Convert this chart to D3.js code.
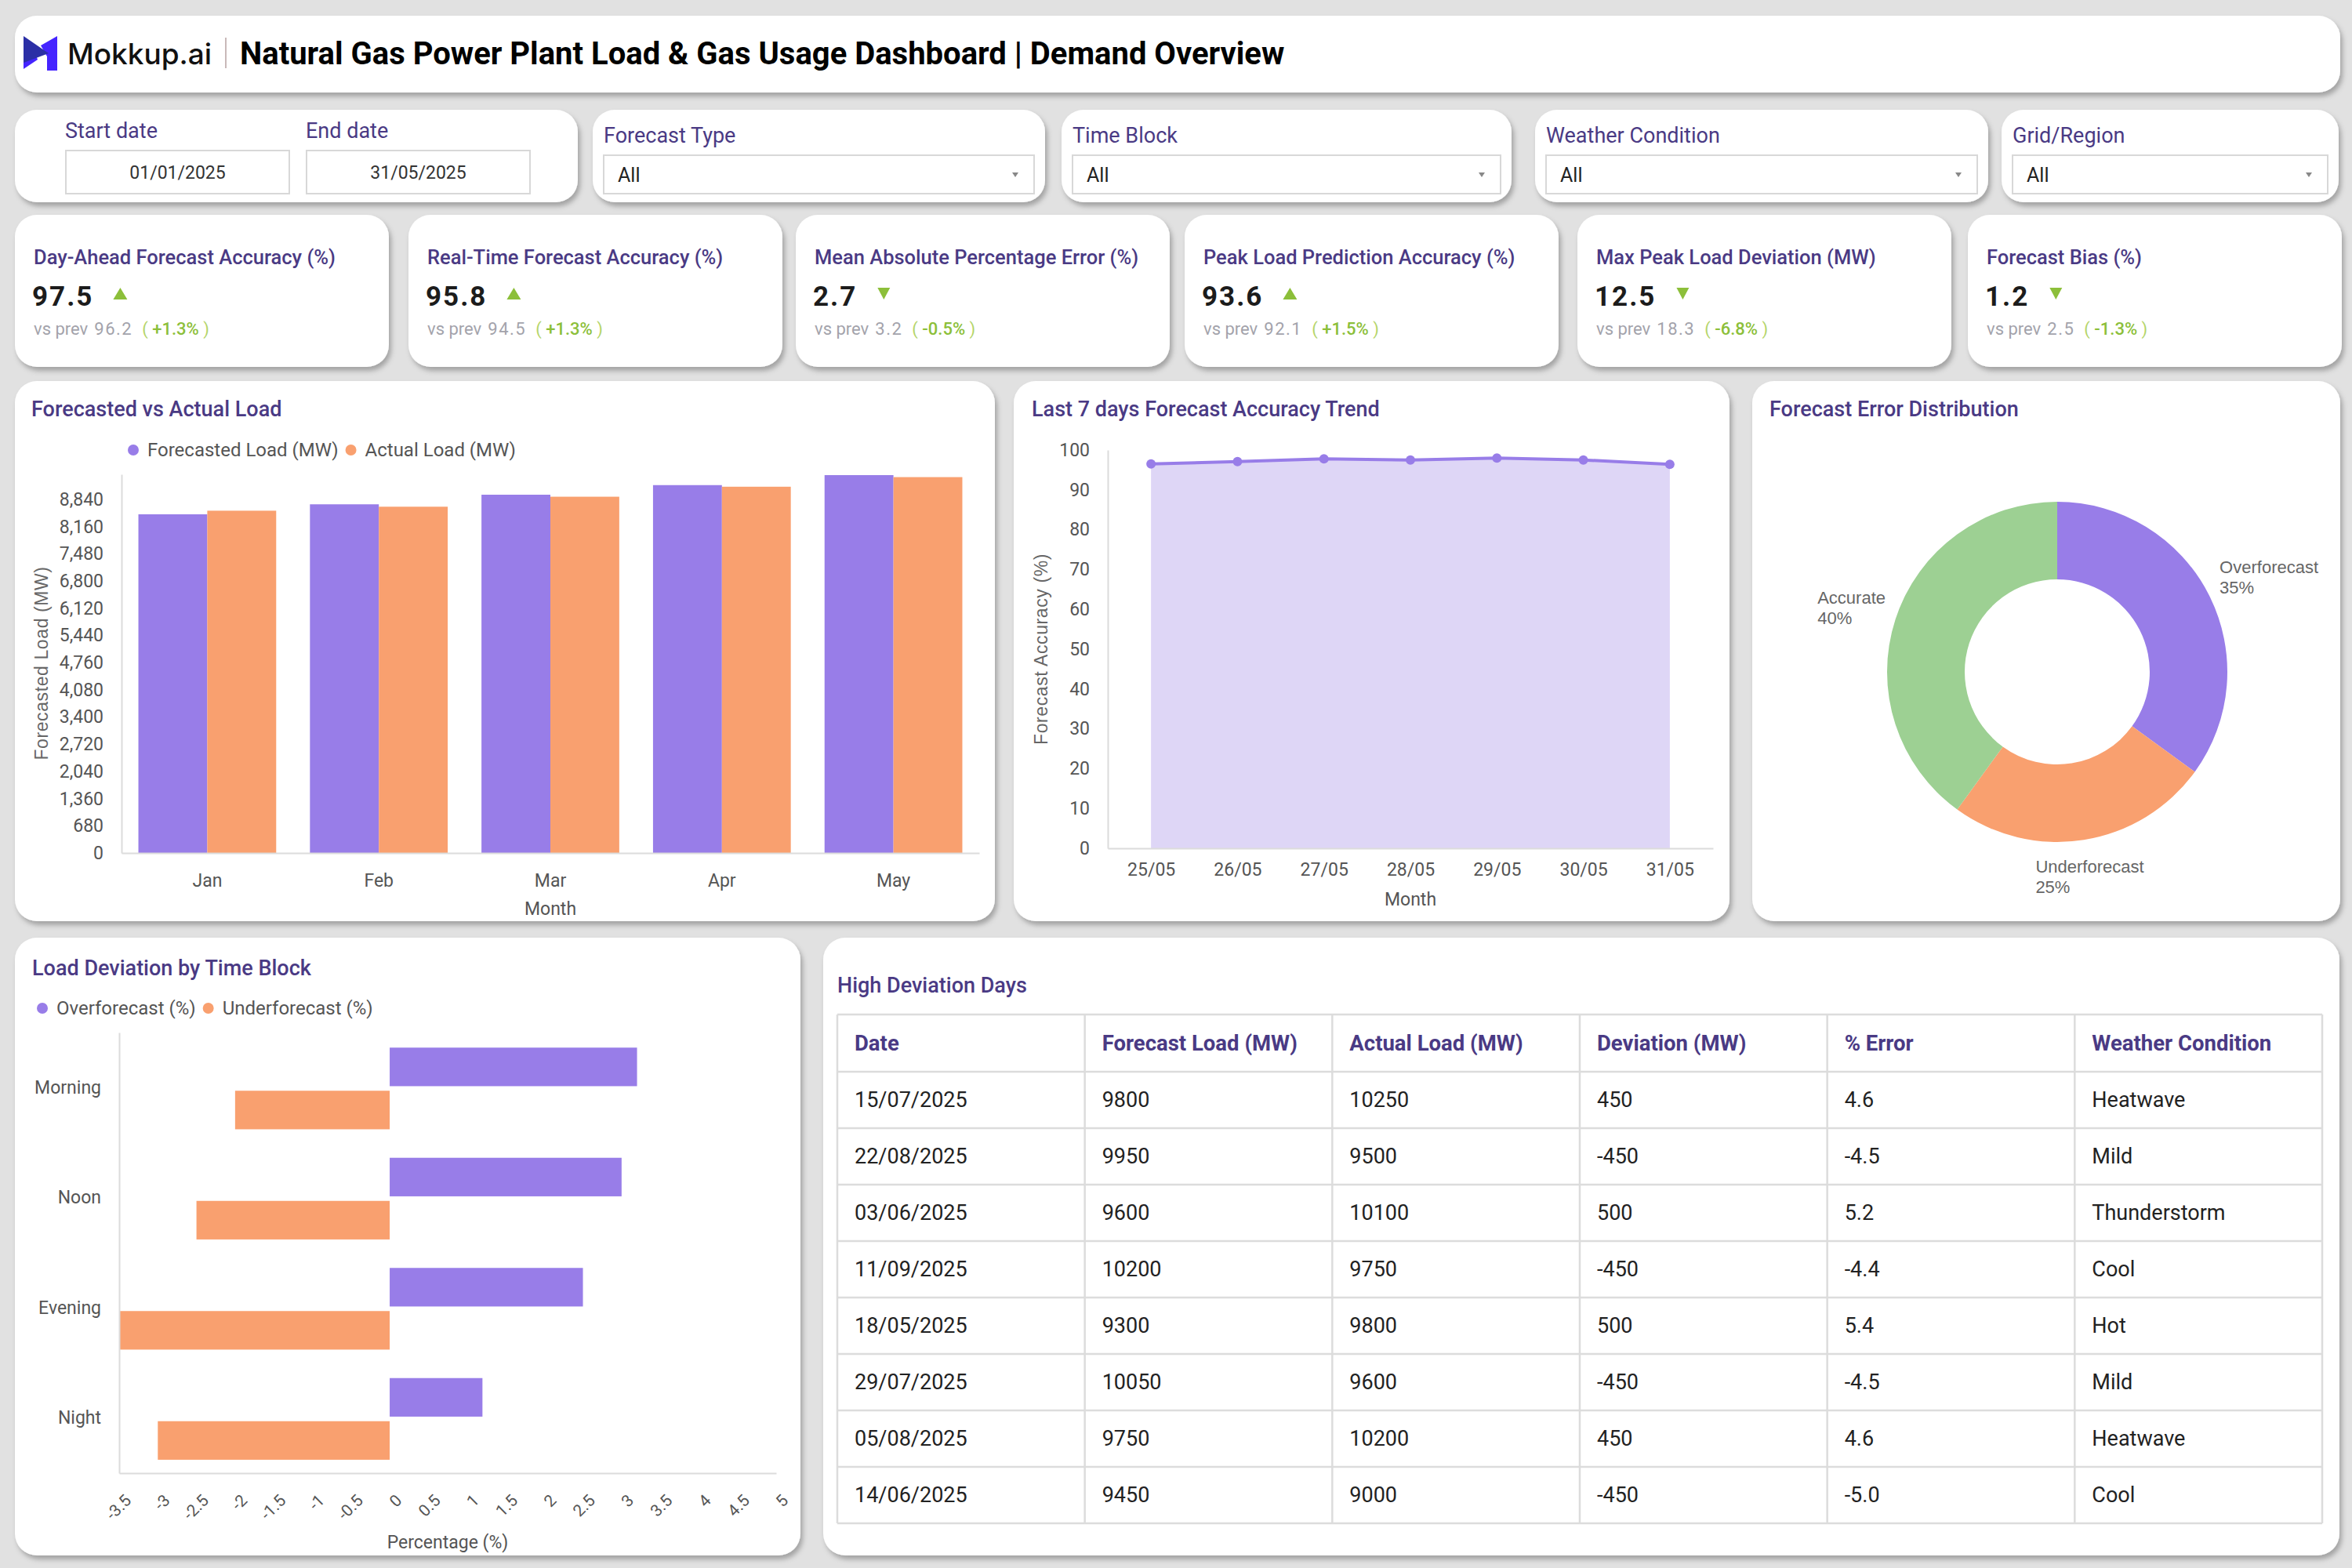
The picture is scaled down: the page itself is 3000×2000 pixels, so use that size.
<!DOCTYPE html>
<html>
<head>
<meta charset="utf-8">
<script src="https://cdn.jsdelivr.net/npm/d3@7"></script>
<style>
  body { margin: 0; background: #e1e1e1; }
  svg text { font-family: Roboto, "Liberation Sans", sans-serif; }
</style>
</head>
<body>
<svg id="dash" width="3000" height="2000"></svg>
<script>
// ---- data ----
var filterLabels = ["Forecast Type", "Time Block", "Weather Condition", "Grid/Region"];
var startDate = "01/01/2025";
var endDate = "31/05/2025";

var kpiTitles = ["Day-Ahead Forecast Accuracy (%)", "Real-Time Forecast Accuracy (%)", "Mean Absolute Percentage Error (%)",
  "Peak Load Prediction Accuracy (%)", "Max Peak Load Deviation (MW)", "Forecast Bias (%)"];
var kpiValues = ["97.5", "95.8", "2.7", "93.6", "12.5", "1.2"];
var kpiPrev = ["96.2", "94.5", "3.2", "92.1", "18.3", "2.5"];
var kpiChange = ["+1.3%", "+1.3%", "-0.5%", "+1.5%", "-6.8%", "-1.3%"];
var kpiUp = [true, true, false, true, false, false];

var months = ["Jan", "Feb", "Mar", "Apr", "May"];
var forecastLoad = [8470, 8720, 8960, 9200, 9450];
var actualLoad = [8560, 8660, 8910, 9160, 9400];
var loadTicks = [0, 680, 1360, 2040, 2720, 3400, 4080, 4760, 5440, 6120, 6800, 7480, 8160, 8840];

var trendDays = ["25/05", "26/05", "27/05", "28/05", "29/05", "30/05", "31/05"];
var trendAccuracy = [96.5, 97.1, 97.8, 97.5, 98.0, 97.5, 96.4];
var accuracyTicks = [0, 10, 20, 30, 40, 50, 60, 70, 80, 90, 100];

var errorLabels = ["Overforecast", "Underforecast", "Accurate"];
var errorShares = [35, 25, 40];

var timeBlocks = ["Morning", "Noon", "Evening", "Night"];
var overPct = [3.2, 3.0, 2.5, 1.2];
var underPct = [-2.0, -2.5, -3.5, -3.0];
var pctTicks = [-3.5, -3, -2.5, -2, -1.5, -1, -0.5, 0, 0.5, 1, 1.5, 2, 2.5, 3, 3.5, 4, 4.5, 5];

var tableCols = ["Date", "Forecast Load (MW)", "Actual Load (MW)", "Deviation (MW)", "% Error", "Weather Condition"];
var tableDates = ["15/07/2025", "22/08/2025", "03/06/2025", "11/09/2025", "18/05/2025", "29/07/2025", "05/08/2025", "14/06/2025"];
var tableForecast = [9800, 9950, 9600, 10200, 9300, 10050, 9750, 9450];
var tableActual = [10250, 9500, 10100, 9750, 9800, 9600, 10200, 9000];
var tableDeviation = [450, -450, 500, -450, 500, -450, 450, -450];
var tableError = ["4.6", "-4.5", "5.2", "-4.4", "5.4", "-4.5", "4.6", "-5.0"];
var tableWeather = ["Heatwave", "Mild", "Thunderstorm", "Cool", "Hot", "Mild", "Heatwave", "Cool"];

// ---- colours ----
var purple = "#987de8";
var orange = "#f9a06f";
var green = "#9dd093";
var titleColor = "#4a3a84";
var axisColor = "#555";
var kpiGreen = "#8cbf3a";

var svg = d3.select("#dash");
var defs = svg.append("defs");
var filt = defs.append("filter").attr("id", "shadow")
  .attr("x", "-5%").attr("y", "-5%").attr("width", "112%").attr("height", "125%");
filt.append("feDropShadow").attr("dx", 3).attr("dy", 5).attr("stdDeviation", 3)
  .attr("flood-color", "#000").attr("flood-opacity", 0.28);

function card(x, y, w, h) {
  svg.append("rect").attr("x", x).attr("y", y).attr("width", w).attr("height", h)
    .attr("rx", 28).attr("fill", "#fff").attr("filter", "url(#shadow)");
}

function label(x, y, s, size, color, weight) {
  return svg.append("text").attr("x", x).attr("y", y).text(s)
    .style("font-size", size + "px").attr("fill", color).style("font-weight", weight || 400);
}

function styleAxis(g) {
  g.select(".domain").attr("stroke", "#dcdcdc").attr("stroke-width", 2);
  g.selectAll("text").style("font-size", "23px").attr("fill", axisColor);
}

// ---- header ----
card(19, 20, 2966, 98);
svg.append("path").attr("d", "M52,58 L73,46 L73,90 L60,90 L60,72 Z").attr("fill", "#4524ff");
svg.append("path").attr("d", "M30,88 L30,74 L44,66 L48,76 Z").attr("fill", "#4524ff");
svg.append("path").attr("d", "M30,46 L62,68 L30,80 Z").attr("fill", "#2b2fa6");
svg.append("text").attr("x", 86).attr("y", 82).text("Mokkup.ai")
  .style("font-family", "Inter").style("font-size", "37px").style("font-weight", 500).attr("fill", "#111");
svg.append("line").attr("x1", 288).attr("x2", 288).attr("y1", 48).attr("y2", 87)
  .attr("stroke", "#c9b9b9").attr("stroke-width", 2);
label(306, 82, "Natural Gas Power Plant Load & Gas Usage Dashboard | Demand Overview", 40, "#000", 700);

// ---- filter row ----
card(19, 140, 718, 118);
label(83, 176, "Start date", 27, titleColor, 400);
label(390, 176, "End date", 27, titleColor, 400);
[[84, startDate], [391, endDate]].forEach(function(d) {
  svg.append("rect").attr("x", d[0]).attr("y", 192).attr("width", 285).attr("height", 55)
    .attr("fill", "#fff").attr("stroke", "#d8d8d8").attr("stroke-width", 2);
  label(d[0] + 142.5, 228, d[1], 23, "#333", 400).attr("text-anchor", "middle");
});

var filterCards = [[756, 577], [1354, 574], [1958, 578], [2553, 430]];
filterCards.forEach(function(c, i) {
  card(c[0], 140, c[1], 118);
  label(c[0] + 14, 182, filterLabels[i], 27, titleColor, 400);
  var bx = c[0] + 14, bw = c[1] - 28;
  svg.append("rect").attr("x", bx).attr("y", 198).attr("width", bw).attr("height", 49)
    .attr("fill", "#fff").attr("stroke", "#d8d8d8").attr("stroke-width", 2);
  label(bx + 18, 232, "All", 25, "#222", 400);
  var ax = bx + bw - 24;
  svg.append("path").attr("d", "M" + (ax - 4) + ",220 L" + (ax + 4) + ",220 L" + ax + ",226 Z").attr("fill", "#888");
});

// ---- KPI cards ----
var kpiX = [19, 521, 1015, 1511, 2012, 2510];
kpiX.forEach(function(x, i) {
  var y = 274;
  card(x, y, 477, 194);
  label(x + 24, y + 63, kpiTitles[i], 25.5, titleColor, 500);
  var v = label(x + 22, y + 116, kpiValues[i], 35, "#1c1c1c", 700).style("letter-spacing", "2px");
  var vw = v.node().getComputedTextLength();
  var tx = x + 22 + vw + 34;
  var tri = kpiUp[i]
    ? "M" + (tx - 9) + "," + (y + 108) + " L" + (tx + 9) + "," + (y + 108) + " L" + tx + "," + (y + 93) + " Z"
    : "M" + (tx - 8) + "," + (y + 93) + " L" + (tx + 8) + "," + (y + 93) + " L" + tx + "," + (y + 108) + " Z";
  svg.append("path").attr("d", tri).attr("fill", kpiGreen);
  var p = label(x + 24, y + 153, "vs prev", 22, "#a3a3ab", 400);
  var pw = p.node().getComputedTextLength();
  var n = label(x + 24 + pw + 8, y + 153, kpiPrev[i], 22, "#a3a3ab", 400).style("letter-spacing", "1.5px");
  var nx = x + 24 + pw + 8 + n.node().getComputedTextLength() + 12;
  var c = svg.append("text").attr("x", nx).attr("y", y + 153).style("font-size", "22px");
  c.append("tspan").text("( ").attr("fill", "#b5d56a");
  c.append("tspan").text(kpiChange[i]).attr("fill", kpiGreen).style("font-weight", 500);
  c.append("tspan").text(" )").attr("fill", "#b5d56a");
});

// ---- Forecasted vs Actual Load ----
card(19, 486, 1250, 689);
label(40, 531, "Forecasted vs Actual Load", 27, titleColor, 500);

function legend(x, y, names, colors) {
  var cx = x;
  names.forEach(function(n, i) {
    svg.append("circle").attr("cx", cx).attr("cy", y).attr("r", 7).attr("fill", colors[i]);
    var t = label(cx + 18, y, n, 24, axisColor, 400).attr("dominant-baseline", "central");
    cx = cx + 18 + t.node().getComputedTextLength() + 16;
  });
}
legend(170, 574, ["Forecasted Load (MW)", "Actual Load (MW)"], [purple, orange]);

var x1 = d3.scaleBand().domain(months).range([155, 1249]);
var x1inner = d3.scaleBand().domain(["f", "a"]).range([0, x1.bandwidth()]).paddingOuter(0.245).paddingInner(0);
var y1 = d3.scaleLinear().domain([0, 9470]).range([1088, 605]);

var g1 = svg.append("g");
months.forEach(function(m, i) {
  g1.append("rect").attr("x", x1(m) + x1inner("f")).attr("y", y1(forecastLoad[i]))
    .attr("width", x1inner.bandwidth()).attr("height", y1(0) - y1(forecastLoad[i])).attr("fill", purple);
  g1.append("rect").attr("x", x1(m) + x1inner("a")).attr("y", y1(actualLoad[i]))
    .attr("width", x1inner.bandwidth()).attr("height", y1(0) - y1(actualLoad[i])).attr("fill", orange);
});
svg.append("g").attr("transform", "translate(155,0)")
  .call(d3.axisLeft(y1).tickValues(loadTicks).tickSize(0).tickSizeOuter(0).tickPadding(23).tickFormat(d3.format(",")))
  .call(styleAxis);
svg.append("g").attr("transform", "translate(0,1088)")
  .call(d3.axisBottom(x1).tickSize(0).tickSizeOuter(0).tickPadding(27))
  .call(styleAxis);
label(702, 1167, "Month", 23, axisColor, 400).attr("text-anchor", "middle");
svg.append("text").attr("transform", "translate(61,846) rotate(-90)").attr("text-anchor", "middle")
  .text("Forecasted Load (MW)").style("font-family", "Liberation Sans").style("font-size", "23px")
  .style("letter-spacing", "0.6px").attr("fill", "#666");

// ---- Last 7 days Forecast Accuracy Trend ----
card(1293, 486, 913, 689);
label(1316, 531, "Last 7 days Forecast Accuracy Trend", 27, titleColor, 500);
var x2 = d3.scalePoint().domain(trendDays).range([1413, 2185]).padding(0.5);
var y2 = d3.scaleLinear().domain([0, 100]).range([1082, 574]);
var area = d3.area().x(function(d, i) { return x2(trendDays[i]); }).y0(y2(0)).y1(function(d) { return y2(d); });
var line = d3.line().x(function(d, i) { return x2(trendDays[i]); }).y(function(d) { return y2(d); });
svg.append("path").datum(trendAccuracy).attr("d", area).attr("fill", "#ded6f6");
svg.append("g").attr("transform", "translate(1413,0)")
  .call(d3.axisLeft(y2).tickValues(accuracyTicks).tickSize(0).tickSizeOuter(0).tickPadding(23))
  .call(styleAxis);
svg.append("g").attr("transform", "translate(0,1082)")
  .call(d3.axisBottom(x2).tickSize(0).tickSizeOuter(0).tickPadding(19))
  .call(styleAxis);
svg.append("path").datum(trendAccuracy).attr("d", line).attr("fill", "none")
  .attr("stroke", purple).attr("stroke-width", 4);
svg.selectAll(".pt").data(trendAccuracy).enter().append("circle").attr("class", "pt")
  .attr("cx", function(d, i) { return x2(trendDays[i]); }).attr("cy", function(d) { return y2(d); })
  .attr("r", 6).attr("fill", purple);
label(1799, 1155, "Month", 23, axisColor, 400).attr("text-anchor", "middle");
svg.append("text").attr("transform", "translate(1336,828) rotate(-90)").attr("text-anchor", "middle")
  .text("Forecast Accuracy (%)").style("font-family", "Liberation Sans").style("font-size", "23px")
  .style("letter-spacing", "0.6px").attr("fill", "#666");

// ---- Forecast Error Distribution ----
card(2235, 486, 750, 689);
label(2257, 531, "Forecast Error Distribution", 27, titleColor, 500);
var cx3 = 2624, cy3 = 857;
var pie = d3.pie().sort(null).value(function(d) { return d; });
var arc = d3.arc().innerRadius(118).outerRadius(217);
var donutColors = [purple, orange, green];
var g3 = svg.append("g").attr("transform", "translate(" + cx3 + "," + cy3 + ")");
pie(errorShares).forEach(function(a, i) {
  g3.append("path").attr("d", arc(a)).attr("fill", donutColors[i]);
  var mid = (a.startAngle + a.endAngle) / 2;
  var px = Math.sin(mid) * 265, py = -Math.cos(mid) * 265;
  var t = g3.append("text").style("font-family", "Liberation Sans").style("font-size", "22px").attr("fill", "#666");
  t.append("tspan").attr("x", 0).attr("y", py - 13).attr("dominant-baseline", "central").text(errorLabels[i]);
  t.append("tspan").attr("x", 0).attr("y", py + 13).attr("dominant-baseline", "central").text(errorShares[i] + "%");
  var w = t.node().getBBox().width;
  var left = Math.sin(mid) > 0.5 ? px - 29 : (Math.sin(mid) < -0.5 ? px + 33 - w : px - w / 2);
  t.selectAll("tspan").attr("x", left);
});

// ---- Load Deviation by Time Block ----
card(19, 1196, 1002, 788);
label(41, 1244, "Load Deviation by Time Block", 27, titleColor, 500);
legend(54, 1286, ["Overforecast (%)", "Underforecast (%)"], [purple, orange]);
var x4 = d3.scaleLinear().domain([-3.5, 5]).range([152, 990]);
var y4 = d3.scaleBand().domain(timeBlocks).range([1317, 1879]);
var bh = y4.bandwidth() * 0.35;
timeBlocks.forEach(function(b, i) {
  var c = y4(b) + y4.bandwidth() / 2;
  svg.append("rect").attr("x", x4(0)).attr("y", c - 51).attr("width", x4(overPct[i]) - x4(0))
    .attr("height", bh).attr("fill", purple);
  svg.append("rect").attr("x", x4(underPct[i])).attr("y", c + 4).attr("width", x4(0) - x4(underPct[i]))
    .attr("height", bh).attr("fill", orange);
});
svg.append("g").attr("transform", "translate(152,0)")
  .call(d3.axisLeft(y4).tickSize(0).tickSizeOuter(0).tickPadding(23))
  .call(styleAxis);
var xa4 = svg.append("g").attr("transform", "translate(0,1879)")
  .call(d3.axisBottom(x4).tickValues(pctTicks).tickSize(0).tickSizeOuter(0).tickFormat(function(d) { return String(d); }))
  .call(styleAxis);
xa4.selectAll("text").attr("x", 0).attr("y", 0).attr("dy", "0.35em").attr("text-anchor", "end")
  .attr("transform", "translate(11,31) rotate(-45)").style("font-size", "21px");
label(571, 1975, "Percentage (%)", 23, axisColor, 400).attr("text-anchor", "middle");

// ---- High Deviation Days ----
card(1050, 1196, 1934, 788);
label(1068, 1266, "High Deviation Days", 27, titleColor, 500);
var tx0 = 1068, tx1 = 2962, ty0 = 1294, headH = 73, rowH = 72;
var colX = d3.scaleBand().domain(d3.range(tableCols.length)).range([tx0, tx1]);
var rows = tableDates.map(function(d, i) {
  return [d, tableForecast[i], tableActual[i], tableDeviation[i], tableError[i], tableWeather[i]];
});
var tg = svg.append("g");
tableCols.forEach(function(c, j) {
  tg.append("text").attr("x", colX(j) + 22).attr("y", ty0 + headH / 2).attr("dominant-baseline", "central")
    .text(c).style("font-size", "27.5px").style("font-weight", 700).attr("fill", titleColor);
});
rows.forEach(function(r, i) {
  var ry = ty0 + headH + i * rowH;
  r.forEach(function(v, j) {
    tg.append("text").attr("x", colX(j) + 22).attr("y", ry + rowH / 2).attr("dominant-baseline", "central")
      .text(v).style("font-size", "27px").attr("fill", "#222");
  });
});
var tyEnd = ty0 + headH + rows.length * rowH;
var hLines = [ty0, ty0 + headH].concat(rows.map(function(r, i) { return ty0 + headH + (i + 1) * rowH; }));
hLines.forEach(function(y) {
  tg.append("line").attr("x1", tx0).attr("x2", tx1).attr("y1", y).attr("y2", y).attr("stroke", "#dcdcdc").attr("stroke-width", 2.5);
});
d3.range(tableCols.length + 1).forEach(function(j) {
  var x = j < tableCols.length ? colX(j) : tx1;
  tg.append("line").attr("x1", x).attr("x2", x).attr("y1", ty0).attr("y2", tyEnd).attr("stroke", "#dcdcdc").attr("stroke-width", 2.5);
});
</script>
</body>
</html>
